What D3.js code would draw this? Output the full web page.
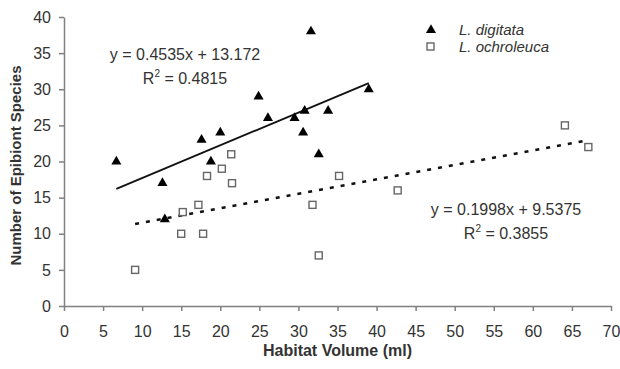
<!DOCTYPE html>
<html>
<head>
<meta charset="utf-8">
<script src="https://cdn.jsdelivr.net/npm/d3@7"></script>
<style>
  html, body { margin: 0; padding: 0; background: #fff; }
  svg { display: block; font-family: "Liberation Sans", Arial, sans-serif; }
</style>
</head>
<body>
<div id="chart"></div>
<script>
// L. digitata (triangles)
const digitataX = [6.7, 12.6, 12.9, 17.6, 18.8, 20.0, 24.9, 26.1, 29.5, 30.8, 30.6, 31.6, 32.6, 33.8, 39.0];
const digitataY = [20, 17, 12, 23, 20, 24, 29, 26, 26, 27, 24, 38, 21, 27, 30];

// L. ochroleuca (open squares)
const ochroX = [9.1, 15.0, 15.2, 17.2, 17.8, 18.3, 20.2, 21.4, 21.5, 31.8, 32.6, 35.2, 42.7, 64.1, 67.1];
const ochroY = [5, 10, 13, 14, 10, 18, 19, 21, 17, 14, 7, 18, 16, 25, 22];

// trendlines as printed on the chart
const digitataFit = { slope: 0.4535, intercept: 13.172, r2: "0.4815" };
const ochroFit = { slope: 0.1998, intercept: 9.5375, r2: "0.3855" };

const xTicks = [0, 5, 10, 15, 20, 25, 30, 35, 40, 45, 50, 55, 60, 65, 70];
const yTicks = [0, 5, 10, 15, 20, 25, 30, 35, 40];

const W = 620, H = 369;
const margin = { left: 64, right: 9, top: 17, bottom: 63 };

const svg = d3.select("#chart").append("svg")
    .attr("width", W)
    .attr("height", H);

const x = d3.scaleLinear().domain([0, 70]).range([margin.left, W - margin.right]);
const y = d3.scaleLinear().domain([0, 40]).range([H - margin.bottom, margin.top]);

const axisColor = "#808080";
const textColor = "#333";

// axes
const gx = svg.append("g")
    .attr("transform", `translate(0,${y(0)})`)
    .call(d3.axisBottom(x).tickValues(xTicks).tickSize(5).tickPadding(15).tickSizeOuter(0));
const gy = svg.append("g")
    .attr("transform", `translate(${x(0)},0)`)
    .call(d3.axisLeft(y).tickValues(yTicks).tickSize(5).tickPadding(8).tickSizeOuter(0));

[gx, gy].forEach(g => {
    g.select(".domain").attr("stroke", axisColor).attr("stroke-width", 1.5);
    g.selectAll(".tick line").attr("stroke", axisColor).attr("stroke-width", 1.5);
    g.selectAll(".tick text")
        .attr("fill", textColor)
        .style("font-size", "16px")
        .style("font-family", "'Liberation Sans', Arial, sans-serif");
});

// axis titles
svg.append("text")
    .attr("x", (x(0) + x(70)) / 2)
    .attr("y", 356)
    .attr("text-anchor", "middle")
    .attr("fill", textColor)
    .style("font-size", "16px")
    .style("font-weight", "bold")
    .text("Habitat Volume (ml)");

svg.append("text")
    .attr("transform", `translate(21,${(y(0) + y(40)) / 2 + 4}) rotate(-90)`)
    .attr("text-anchor", "middle")
    .attr("fill", textColor)
    .style("font-size", "15px")
    .style("font-weight", "bold")
    .text("Number of Epibiont Species");

// trendlines
function fitLine(xs, fit) {
    const [x0, x1] = d3.extent(xs);
    return [[x0, fit.slope * x0 + fit.intercept], [x1, fit.slope * x1 + fit.intercept]];
}
const line = d3.line().x(d => x(d[0])).y(d => y(d[1]));

svg.append("path")
    .datum(fitLine(digitataX, digitataFit))
    .attr("d", line)
    .attr("fill", "none")
    .attr("stroke", "#111")
    .attr("stroke-width", 1.8);

svg.append("path")
    .datum(fitLine(ochroX, ochroFit))
    .attr("d", line)
    .attr("fill", "none")
    .attr("stroke", "#111")
    .attr("stroke-width", 2.6)
    .attr("stroke-dasharray", "4,7");

// markers
const tri = d3.symbol().type(d3.symbolTriangle).size(44);

svg.append("g").selectAll("path")
    .data(d3.zip(digitataX, digitataY))
    .join("path")
    .attr("d", tri)
    .attr("transform", d => `translate(${x(d[0])},${y(d[1])})`)
    .attr("fill", "#000");

svg.append("g").selectAll("rect")
    .data(d3.zip(ochroX, ochroY))
    .join("rect")
    .attr("x", d => x(d[0]) - 3.5)
    .attr("y", d => y(d[1]) - 3.5)
    .attr("width", 7)
    .attr("height", 7)
    .attr("fill", "#fff")
    .attr("stroke", "#666")
    .attr("stroke-width", 1.4);

// equations
function equation(cx, by, fit) {
    const g = svg.append("g").attr("fill", textColor).style("font-size", "16px");
    g.append("text")
        .attr("x", cx).attr("y", by)
        .attr("text-anchor", "middle")
        .text(`y = ${fit.slope}x + ${fit.intercept}`);
    const t = g.append("text")
        .attr("x", cx).attr("y", by + 24)
        .attr("text-anchor", "middle");
    t.append("tspan").text("R");
    t.append("tspan").attr("dy", -7).style("font-size", "10px").text("2");
    t.append("tspan").attr("dy", 7).text(` = ${fit.r2}`);
}
equation(185, 60, digitataFit);
equation(506, 215, ochroFit);

// legend
const legend = svg.append("g");
legend.append("path")
    .attr("d", tri)
    .attr("transform", "translate(431,30)")
    .attr("fill", "#000");
legend.append("rect")
    .attr("x", 427).attr("y", 43)
    .attr("width", 7).attr("height", 7)
    .attr("fill", "#fff")
    .attr("stroke", "#666")
    .attr("stroke-width", 1.4);
[["L. digitata", 35], ["L. ochroleuca", 52]].forEach(([label, by]) => {
    legend.append("text")
        .attr("x", 459).attr("y", by)
        .attr("fill", textColor)
        .style("font-size", "15px")
        .style("font-style", "italic")
        .text(label);
});
</script>
</body>
</html>
